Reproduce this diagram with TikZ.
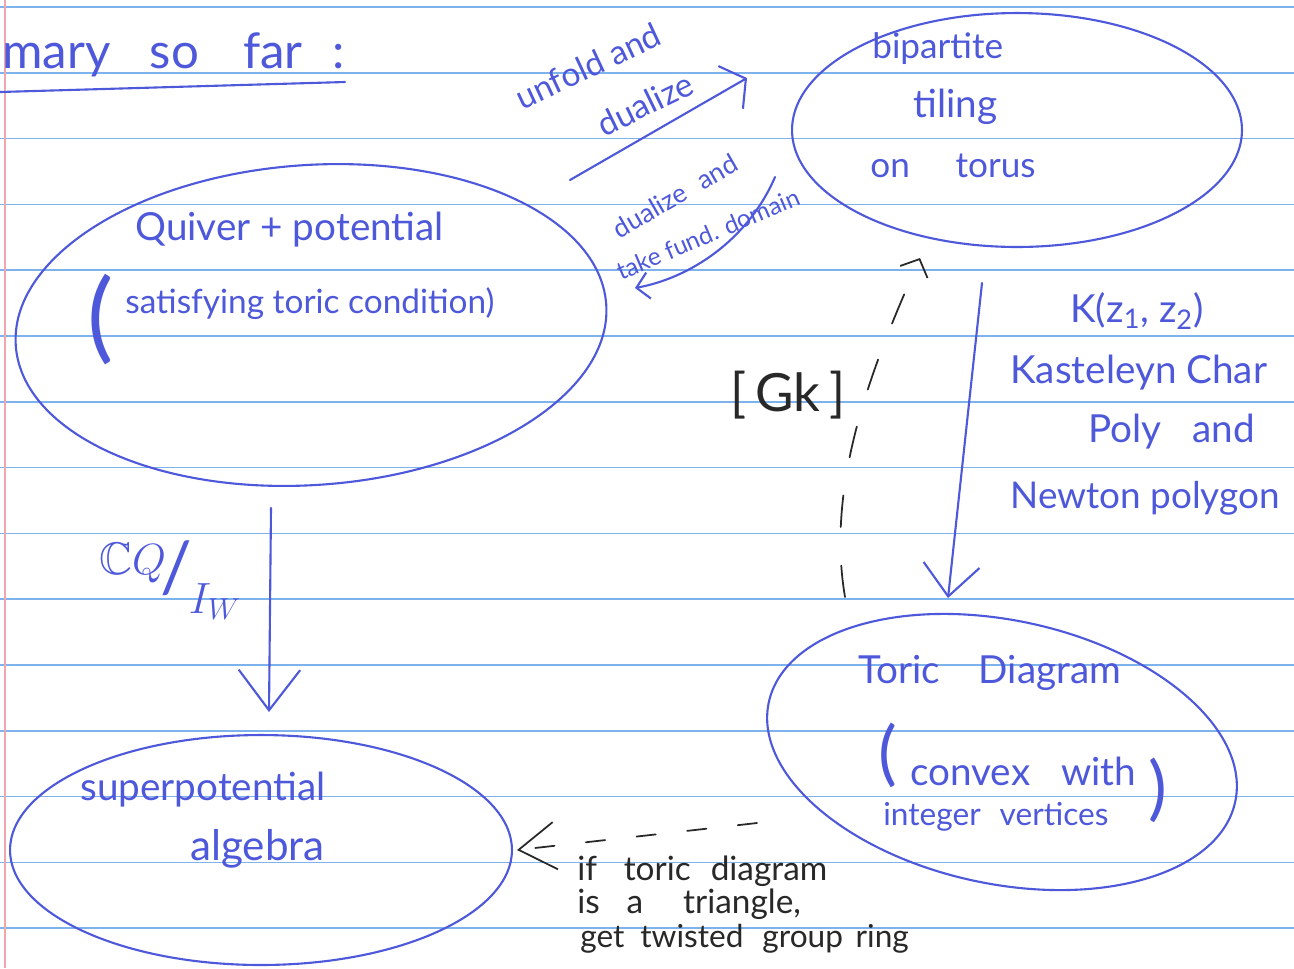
\documentclass[tikz,border=0pt]{standalone}
\usepackage{amssymb}
\usepackage{fontspec}
\setmainfont{Lato}
\usetikzlibrary{shapes.geometric,arrows.meta}
\definecolor{inkblue}{RGB}{78,88,218}
\definecolor{inkblack}{RGB}{40,40,40}
\definecolor{rulecol}{RGB}{125,178,236}
\definecolor{margincol}{RGB}{240,165,175}
\newcommand{\fsz}[1]{\fontsize{#1}{#1}\selectfont}
\begin{document}
\begin{tikzpicture}[x=0.02cm,y=-0.02cm,
  ruled/.style={draw=rulecol,line width=1pt},
  ink/.style={draw=inkblue,line width=1.2pt,line cap=round,line join=round},
  inkk/.style={draw=inkblack,line width=1pt,line cap=round,line join=round},
  blob/.style={ellipse,ink,inner sep=0pt},
  hand/.style={text=inkblue,inner sep=0pt},
  handk/.style={text=inkblack,inner sep=0pt}]
% paper
\fill[white] (0,0) rectangle (1294,968);
\useasboundingbox (0,0) rectangle (1294,968);
\foreach \k in {0,...,14} \draw[ruled] (0,{7+65.8*\k}) -- (1294,{7+65.8*\k});
\draw[draw=margincol,line width=0.8pt] (5,0) -- (5,968);
% title
\node[hand,anchor=base west,font=\fsz{28}] (title) at (2,68) {mary\hspace{0.8em}so\hspace{0.9em}far\hspace{0.6em}:};
\draw[ink] (0,92) -- (345,82);
% ellipses
\node[blob,minimum width=9cm,minimum height=4.68cm] (bip) at (1017,130) {};
\node[blob,minimum width=11.84cm,minimum height=6.4cm,rotate=4] (quiv) at (311,325) {};
\node[blob,minimum width=10.04cm,minimum height=4.6cm] (supa) at (261,850) {};
\node[blob,minimum width=9.54cm,minimum height=5.27cm,rotate=-12] (toric) at (1002,752) {};
% texts in ellipses
\node[hand,anchor=base west,font=\fsz{20}] (b1) at (872,58) {bipartite};
\node[hand,anchor=base west,font=\fsz{22}] (b2) at (913,117) {tiling};
\node[hand,anchor=base west,font=\fsz{20}] (b3) at (870,177) {on\hspace{1.3em}torus};
\node[hand,anchor=base west,font=\fsz{22}] (q1) at (135,240) {Quiver + potential};
\node[hand,font=\fsz{56}] (q2) at (101,320) {(};
\node[hand,anchor=base west,font=\fsz{19}] (q3) at (125,313) {satisfying toric condition)};
\node[hand,anchor=base west,font=\fsz{22}] (s1) at (80,800) {superpotential};
\node[hand,anchor=base west,font=\fsz{24}] (s2) at (190,860) {algebra};
\node[hand,anchor=base west,font=\fsz{22}] (t1) at (858,683) {Toric\hspace{1em}Diagram};
\node[hand,font=\fsz{40}] (t2) at (888,755) {(};
\node[hand,anchor=base west,font=\fsz{22}] (t3) at (910,785) {convex\hspace{0.8em}with};
\node[hand,font=\fsz{40}] (t4) at (1158,790) {)};
\node[hand,anchor=base west,font=\fsz{18}] (t5) at (883,825) {integer\hspace{0.6em}vertices};
% labels
\node[hand,anchor=base west,font=\fsz{22}] (k1) at (1070,322) {K(z\textsubscript{1}, z\textsubscript{2})};
\node[hand,anchor=base west,font=\fsz{22}] (k2) at (1010,383) {Kasteleyn Char};
\node[hand,anchor=base west,font=\fsz{22}] (k3) at (1088,442) {Poly\hspace{0.8em}and};
\node[hand,anchor=base west,font=\fsz{21}] (k4) at (1010,508) {Newton polygon};
\node[handk,font=\fsz{30}] (gk) at (788,395) {[\,Gk\,]};
\node[hand,font=\fsz{26}] (cq) at (170,580) {\raisebox{10pt}{$\mathbb{C}Q$}\kern-3pt{\fsz{40}/}\kern-2pt\raisebox{-12pt}{$I_W$}};
\node[hand,font=\fsz{19},rotate=25] (u1) at (588,66) {unfold and};
\node[hand,font=\fsz{19},rotate=26] (u2) at (645,104) {dualize};
\node[hand,font=\fsz{15},rotate=30] (d1) at (675,196) {dualize\hspace{0.6em}and};
\node[hand,font=\fsz{14},rotate=23] (d2) at (708,234) {take fund. domain};
\node[handk,anchor=base west,font=\fsz{19}] (i1) at (577,880) {if\hspace{0.8em}toric\hspace{0.6em}diagram};
\node[handk,anchor=base west,font=\fsz{19}] (i2) at (577,913) {is\hspace{0.8em}a\hspace{1.2em}triangle,};
\node[handk,anchor=base west,font=\fsz{18}] (i3) at (580,947) {get\hspace{0.5em}twisted\hspace{0.6em}group\hspace{0.4em}ring};
% connector end points
\coordinate (a1) at (570,180); \coordinate (a2) at (747,78);
\coordinate (c1) at (775,177); \coordinate (c2) at (635,288);
\coordinate (e1) at (271,508); \coordinate (e2) at (269,712);
\coordinate (g1) at (982,283); \coordinate (g2) at (948,598);
\coordinate (h1) at (845,597); \coordinate (h2) at (920,258);
\coordinate (f1) at (757,823); \coordinate (f2) at (517,850);
% connectors
\draw[ink,-{Straight Barb[length=10pt,width=28pt]}] (a1) -- (a2);
\draw[ink,-{Straight Barb[length=7pt,width=15pt]}] (c1) .. controls (748,240) and (690,278) .. (c2);
\draw[ink,-{Straight Barb[length=23pt,width=35pt]}] (e1) -- (e2);
\draw[ink,-{Straight Barb[length=18pt,width=32pt]}] (g1) -- (g2);
\draw[inkk,dash pattern=on 18pt off 22pt,-{Straight Barb[length=8pt,width=17pt]}] (h1) .. controls (825,480) and (875,360) .. (h2);
\draw[inkk,dash pattern=on 11pt off 18pt,-{Straight Barb[length=21pt,width=27pt]}] (f1) -- (f2);
\end{tikzpicture}
\end{document}
